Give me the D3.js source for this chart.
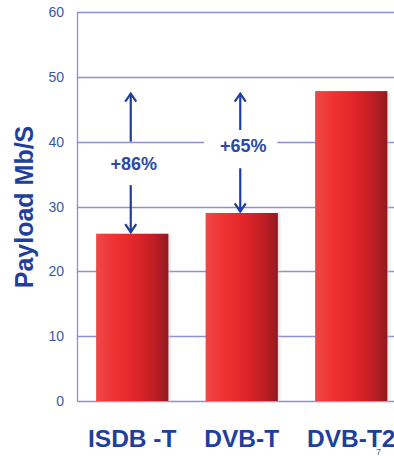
<!DOCTYPE html>
<html><head><meta charset="utf-8">
<script src="https://cdn.jsdelivr.net/npm/d3@7"></script>
<style>html,body{margin:0;padding:0;background:#fff;overflow:hidden}</style>
</head><body>
<svg id="c" width="394" height="456"></svg>
<script>
const categories = ["ISDB -T", "DVB-T", "DVB-T2"];
const payload = [25.8, 29.0, 47.8];
const yTicks = [0, 10, 20, 30, 40, 50, 60];
const annoLabels = ["+86%", "+65%"];
const annoLabelValue = [36.6, 39.4];
const annoUpFrom = [40, 41.8];
const annoDownFrom = [33.3, 35.9];

const svg = d3.select("#c");
const font = "'Liberation Sans', Arial, sans-serif";
const x = d3.scaleBand().domain(categories).range([77.5, 406]).paddingInner(0.34).paddingOuter(0.17);
const y = d3.scaleLinear().domain([0, 60]).range([401, 12]);

const defs = svg.append("defs");
const g = defs.append("linearGradient").attr("id", "bar").attr("x1", "0").attr("x2", "1").attr("y1", "0").attr("y2", "0");
[[0, "#ef4747"], [0.25, "#f03232"], [0.55, "#e0252a"], [0.8, "#bf1e24"], [1, "#931a20"]].forEach(([o, c]) =>
  g.append("stop").attr("offset", o).attr("stop-color", c));
const f = defs.append("filter").attr("id", "sh").attr("x", "-20%").attr("y", "-5%").attr("width", "140%").attr("height", "110%");
f.append("feGaussianBlur").attr("stdDeviation", 1.5);

// grid
svg.append("g").selectAll("line").data(yTicks).join("line")
  .attr("x1", 77.5).attr("x2", 394).attr("y1", d => Math.round(y(d)) + 0.5).attr("y2", d => Math.round(y(d)) + 0.5)
  .attr("stroke", "#8f8fd0").attr("stroke-width", 1.3);
svg.append("line").attr("x1", 77.5).attr("x2", 77.5).attr("y1", y(60)).attr("y2", y(0) + 0.5)
  .attr("stroke", "#8f8fd0").attr("stroke-width", 1.3);

// tick labels
svg.append("g").selectAll("text").data(yTicks).join("text")
  .attr("x", 64).attr("y", d => y(d) + 5).attr("text-anchor", "end")
  .attr("font-family", font).attr("font-size", 14).attr("fill", "#3a56a8").text(d => d);

// bars
svg.append("g").selectAll("rect").data(categories).join("rect")
  .attr("x", d => x(d) + 2).attr("y", (d, i) => y(payload[i]) + 1)
  .attr("width", x.bandwidth()).attr("height", (d, i) => y(0) - y(payload[i]) - 1)
  .attr("fill", "#cfcfcf").attr("opacity", 0.6).attr("filter", "url(#sh)");
svg.append("g").selectAll("rect").data(categories).join("rect")
  .attr("x", d => x(d)).attr("y", (d, i) => y(payload[i]))
  .attr("width", x.bandwidth()).attr("height", (d, i) => y(0) - y(payload[i]))
  .attr("fill", "url(#bar)");

// annotations
const arrowColor = "#1f3d9a";
annoLabels.forEach((lab, i) => {
  const cx = x(categories[i]) + x.bandwidth() / 2 - 1.5;
  const ly = y(annoLabelValue[i]);
  if (i === 1) {
    svg.append("rect").attr("x", cx - 36).attr("y", ly - 10).attr("width", 73).attr("height", 20).attr("fill", "#fff");
  }
  svg.append("text").attr("x", cx + 3).attr("y", ly + 6.5).attr("text-anchor", "middle")
    .attr("font-family", font).attr("font-weight", "bold").attr("font-size", 18).attr("fill", "#2b4aa6").text(lab);
  const topY = y(payload[2]) + 2.5;
  const botY = y(payload[i]) - 1.5;
  const y1 = y(annoUpFrom[i]), y2 = y(annoDownFrom[i]);
  const a = svg.append("g").attr("stroke", arrowColor).attr("stroke-width", 2.2).attr("fill", "none").attr("stroke-linecap", "butt");
  a.append("line").attr("x1", cx).attr("x2", cx).attr("y1", y1).attr("y2", topY);
  a.append("path").attr("d", `M${cx - 5.5},${topY + 8} L${cx},${topY} L${cx + 5.5},${topY + 8}`);
  a.append("line").attr("x1", cx).attr("x2", cx).attr("y1", y2).attr("y2", botY);
  a.append("path").attr("d", `M${cx - 5.5},${botY - 8} L${cx},${botY} L${cx + 5.5},${botY - 8}`);
});

// x labels
svg.append("g").selectAll("text").data(categories).join("text")
  .attr("x", d => x(d) + x.bandwidth() / 2).attr("y", 447).attr("text-anchor", "middle")
  .attr("font-family", font).attr("font-weight", "bold").attr("font-size", 24.5).attr("fill", "#1f3f9c").text(d => d);

// y title
svg.append("text").attr("transform", "translate(33,207) rotate(-90)").attr("text-anchor", "middle")
  .attr("font-family", font).attr("font-weight", "bold").attr("font-size", 25).attr("fill", "#1f3f9c").text("Payload Mb/S");

// slide number
svg.append("text").attr("x", 376).attr("y", 455).attr("font-family", font).attr("font-size", 9).attr("fill", "#4a5a9a").text("7");
</script>
</body></html>
